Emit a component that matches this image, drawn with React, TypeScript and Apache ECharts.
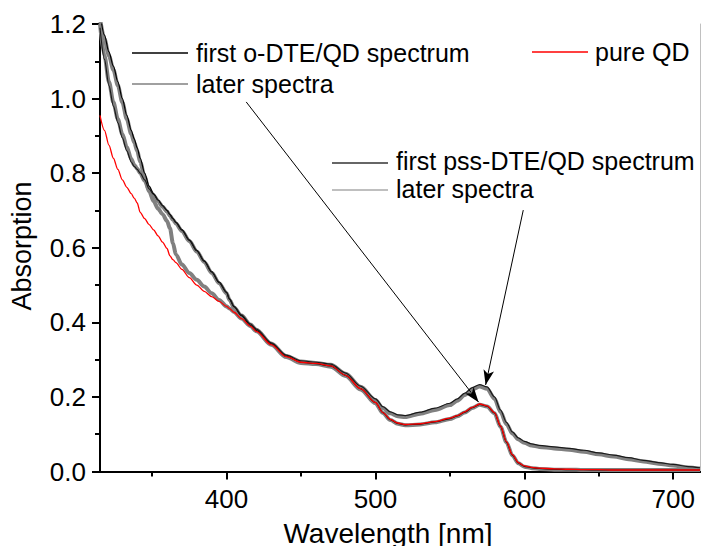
import React, { useEffect, useRef } from "react";
import * as echarts from "echarts";

// Wavelength grid (nm)
const wavelengths = [315, 318, 321, 324, 327, 330, 333, 336, 338, 340, 342, 345, 348, 351, 354, 357, 360, 362, 364, 366, 370, 375, 380, 385, 390, 395, 400, 402, 405, 410, 416, 420, 430, 440, 450, 460, 470, 480, 490, 500, 505, 510, 515, 520, 530, 540, 550, 555, 560, 565, 570, 575, 580, 584, 588, 592, 596, 600, 605, 610, 620, 630, 640, 650, 660, 670, 680, 690, 700, 710, 718];

const pureQD = [0.955, 0.915, 0.875, 0.84, 0.81, 0.782, 0.762, 0.745, 0.733, 0.72, 0.695, 0.678, 0.662, 0.648, 0.632, 0.615, 0.598, 0.578, 0.568, 0.56, 0.542, 0.52, 0.5, 0.483, 0.469, 0.456, 0.443, 0.437, 0.427, 0.41, 0.39, 0.376, 0.34, 0.308, 0.293, 0.29, 0.283, 0.258, 0.222, 0.185, 0.158, 0.14, 0.13, 0.126, 0.128, 0.134, 0.143, 0.15, 0.16, 0.172, 0.181, 0.176, 0.158, 0.122, 0.08, 0.045, 0.024, 0.015, 0.011, 0.009, 0.007, 0.006, 0.005, 0.005, 0.004, 0.004, 0.004, 0.004, 0.004, 0.004, 0.004];

const oDteLater = [1.215, 1.16, 1.115, 1.077, 1.035, 0.99, 0.945, 0.905, 0.882, 0.86, 0.83, 0.79, 0.752, 0.725, 0.705, 0.69, 0.672, 0.652, 0.612, 0.582, 0.555, 0.532, 0.514, 0.496, 0.478, 0.46, 0.443, 0.437, 0.428, 0.41, 0.39, 0.376, 0.34, 0.307, 0.291, 0.288, 0.281, 0.256, 0.22, 0.183, 0.157, 0.138, 0.128, 0.124, 0.126, 0.132, 0.141, 0.148, 0.158, 0.17, 0.179, 0.174, 0.156, 0.12, 0.078, 0.043, 0.022, 0.013, 0.009, 0.007, 0.005, 0.005, 0.004, 0.004, 0.004, 0.004, 0.004, 0.004, 0.004, 0.004, 0.004];

const oDteFirst = [1.23, 1.17, 1.125, 1.087, 1.045, 1.0, 0.955, 0.915, 0.892, 0.868, 0.84, 0.8, 0.765, 0.745, 0.728, 0.713, 0.7, 0.689, 0.678, 0.668, 0.648, 0.62, 0.592, 0.564, 0.535, 0.507, 0.48, 0.462, 0.442, 0.418, 0.392, 0.378, 0.342, 0.309, 0.293, 0.289, 0.283, 0.258, 0.222, 0.185, 0.158, 0.139, 0.129, 0.125, 0.127, 0.133, 0.142, 0.149, 0.159, 0.171, 0.18, 0.175, 0.157, 0.121, 0.079, 0.044, 0.023, 0.014, 0.01, 0.008, 0.006, 0.005, 0.005, 0.004, 0.004, 0.004, 0.004, 0.004, 0.004, 0.004, 0.004];

const pssLater = [1.2, 1.115, 1.045, 0.99, 0.945, 0.905, 0.87, 0.838, 0.822, 0.812, 0.8, 0.78, 0.755, 0.74, 0.725, 0.71, 0.697, 0.686, 0.675, 0.665, 0.645, 0.618, 0.59, 0.562, 0.533, 0.505, 0.478, 0.46, 0.44, 0.418, 0.394, 0.38, 0.343, 0.31, 0.295, 0.291, 0.286, 0.262, 0.227, 0.192, 0.17, 0.156, 0.148, 0.146, 0.155, 0.165, 0.178, 0.19, 0.205, 0.22, 0.228, 0.222, 0.195, 0.16, 0.127, 0.102, 0.086, 0.077, 0.07, 0.066, 0.062, 0.058, 0.053, 0.046, 0.04, 0.033, 0.027, 0.021, 0.016, 0.011, 0.008];

const pssFirst = [1.19, 1.105, 1.035, 0.98, 0.935, 0.895, 0.86, 0.83, 0.818, 0.81, 0.8, 0.782, 0.758, 0.743, 0.728, 0.713, 0.7, 0.689, 0.678, 0.668, 0.648, 0.621, 0.593, 0.565, 0.536, 0.508, 0.481, 0.463, 0.443, 0.42, 0.396, 0.382, 0.345, 0.312, 0.297, 0.293, 0.288, 0.264, 0.229, 0.195, 0.174, 0.16, 0.152, 0.15, 0.159, 0.17, 0.183, 0.195, 0.21, 0.225, 0.233, 0.227, 0.2, 0.165, 0.132, 0.106, 0.09, 0.081, 0.074, 0.07, 0.066, 0.062, 0.057, 0.05, 0.044, 0.037, 0.03, 0.024, 0.019, 0.013, 0.01];

const xMajorTicks = [400, 500, 600, 700];
const xMinorTicks = [350, 450, 550, 650];

// Arrow annotations (data coordinates: [wavelength, absorption])
const arrowODteStart = [413.2, 0.991];
const arrowODteEnd = [569.3, 0.186];
const arrowPssStart = [599.3, 0.701];
const arrowPssEnd = [574.0, 0.232];

const FONT = '"Liberation Sans", Arial, Helvetica, sans-serif';

export default function App() {
  const ref = useRef<HTMLDivElement>(null);

  useEffect(() => {
    if (!ref.current) return;
    const chart = echarts.init(ref.current, null, { renderer: "svg" });
    const pairs = (ys: number[]) => wavelengths.map((x, i) => [x, ys[i]]);
    const mkLine = (name: string, ys: number[], color: string, width: number, z: number, extra: any = {}) => ({
      type: "line",
      name,
      data: pairs(ys),
      xAxisIndex: 0,
      yAxisIndex: 0,
      showSymbol: false,
      symbol: "none",
      smooth: 0.3,
      smoothMonotone: "x",
      silent: true,
      z,
      lineStyle: { color, width },
      ...extra,
    });

    const legendText = (text: string, x: number, y: number) => ({
      type: "text",
      x,
      y,
      silent: true,
      style: { text, fontSize: 25, fontFamily: FONT, fill: "#000", align: "left", verticalAlign: "middle" },
    });
    const legendLine = (x1: number, x2: number, y: number, color: string) => ({
      type: "line",
      silent: true,
      shape: { x1, y1: y, x2, y2: y },
      style: { stroke: color, lineWidth: 1.5 },
    });

    chart.setOption({
      animation: false,
      backgroundColor: "#fff",
      textStyle: { fontFamily: FONT },
      grid: [
        { left: 100, top: 24, right: 2, bottom: 74.5 },
        { left: 100, top: 24, right: 2, bottom: 74.5 },
      ],
      xAxis: [
        {
          type: "value",
          gridIndex: 0,
          position: "bottom",
          min: 315,
          max: 718,
          axisLine: { show: true, lineStyle: { color: "#000", width: 2 } },
          axisTick: { show: true, customValues: xMajorTicks, length: 8, inside: false, lineStyle: { color: "#000", width: 2 } },
          axisLabel: { show: true, customValues: xMajorTicks, fontSize: 26, color: "#000", fontFamily: FONT, margin: 14 },
          splitLine: { show: false },
        },
        {
          type: "value",
          gridIndex: 0,
          position: "top",
          min: 315,
          max: 718,
          axisLine: { show: true, lineStyle: { color: "#000", width: 2 } },
          axisTick: { show: false },
          axisLabel: { show: false },
          splitLine: { show: false },
        },
        {
          type: "value",
          gridIndex: 1,
          position: "bottom",
          min: 315,
          max: 718,
          axisLine: { show: false },
          axisTick: { show: true, customValues: xMinorTicks, length: 5, inside: false, lineStyle: { color: "#000", width: 2 } },
          axisLabel: { show: false, customValues: xMinorTicks },
          splitLine: { show: false },
        },
      ],
      yAxis: [
        {
          type: "value",
          gridIndex: 0,
          position: "left",
          min: 0,
          max: 1.2,
          interval: 0.2,
          axisLine: { show: true, lineStyle: { color: "#000", width: 2 } },
          axisTick: { show: true, length: 8, inside: false, lineStyle: { color: "#000", width: 2 } },
          minorTick: { show: true, splitNumber: 2, length: 5, lineStyle: { color: "#000", width: 2 } },
          axisLabel: {
            fontSize: 26,
            color: "#000",
            fontFamily: FONT,
            margin: 14,
            formatter: (v: number) => v.toFixed(1),
          },
          splitLine: { show: false },
          minorSplitLine: { show: false },
        },
        {
          type: "value",
          gridIndex: 0,
          position: "right",
          min: 0,
          max: 1.2,
          axisLine: { show: true, lineStyle: { color: "#c0c0c0", width: 1 } },
          axisTick: { show: false },
          axisLabel: { show: false },
          splitLine: { show: false },
        },
        { type: "value", gridIndex: 1, show: false, min: 0, max: 1.2 },
      ],
      series: [
        mkLine("later o-DTE spectra", oDteLater, "#808080", 4, 2),
        mkLine("later pss spectra", pssLater, "#808080", 4, 2),
        mkLine("first o-DTE/QD spectrum", oDteFirst, "#000000", 1.2, 3),
        mkLine("first pss-DTE/QD spectrum", pssFirst, "#1a1a1a", 1.2, 3),
        mkLine("pure QD", pureQD, "#ff0000", 1.3, 4, {
          markLine: {
            silent: true,
            animation: false,
            symbol: ["none", "arrow"],
            symbolSize: [8, 15],
            label: { show: false },
            emphasis: { disabled: true },
            lineStyle: { color: "#000", width: 1, type: "solid" },
            data: [
              [{ coord: arrowODteStart }, { coord: arrowODteEnd }],
              [{ coord: arrowPssStart }, { coord: arrowPssEnd }],
            ],
          },
        }),
      ],
      graphic: [
        legendLine(132, 188, 53, "#000"),
        legendText("first o-DTE/QD spectrum", 196, 53),
        legendLine(132, 188, 84, "#808080"),
        legendText("later spectra", 196, 84),
        legendLine(532, 588, 52, "#ff0000"),
        legendText("pure QD", 595, 52),
        legendLine(332, 388, 163, "#333333"),
        legendText("first pss-DTE/QD spectrum", 396, 161),
        legendLine(332, 388, 190, "#aaaaaa"),
        legendText("later spectra", 396, 189),
        {
          type: "text",
          x: 22,
          y: 246,
          rotation: Math.PI / 2,
          silent: true,
          style: { text: "Absorption", fontSize: 27, fontFamily: FONT, fill: "#000", align: "center", verticalAlign: "middle" },
        },
        {
          type: "text",
          x: 388,
          y: 533,
          silent: true,
          style: { text: "Wavelength [nm]", fontSize: 28, fontFamily: FONT, fill: "#000", align: "center", verticalAlign: "middle" },
        },
      ],
    });
    return () => chart.dispose();
  }, []);

  return <div ref={ref} style={{ position: "fixed", left: 0, top: 0, width: 702, height: 546 }} />;
}
